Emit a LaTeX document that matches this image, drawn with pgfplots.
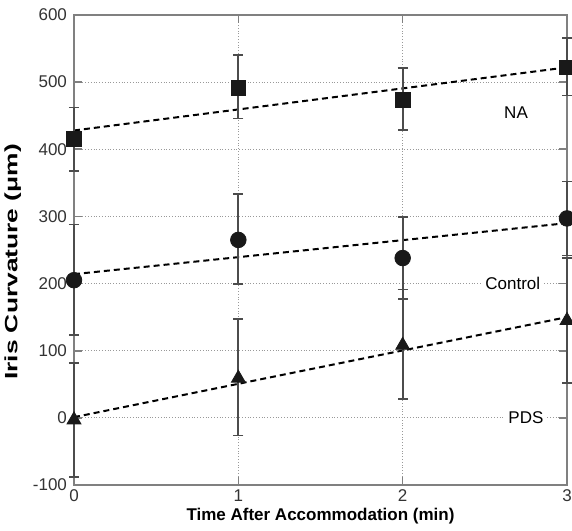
\documentclass[border=0pt]{standalone}
\usepackage{graphicx}
\usepackage{pgfplots}
\pgfplotsset{compat=1.18}
\usepackage{fontspec}
\setmainfont{Liberation Sans}
\definecolor{framegray}{gray}{0.5}
\definecolor{gridgray}{gray}{0.6}
\definecolor{ebgray}{gray}{0.3}
\definecolor{markblack}{gray}{0.1}
\begin{document}
\begin{tikzpicture}
\begin{axis}[
  scale only axis,
  width=246.5pt, height=235pt,
  xmin=0, xmax=3, ymin=-100, ymax=600,
  xtick={0,1,2,3}, ytick={-100,0,...,600},
  grid=major,
  major grid style={densely dotted, gridgray, line width=0.5pt},
  axis line style={framegray, line width=0.8pt},
  tick style={framegray, line width=0.8pt},
  major tick length=4pt,
  tick pos=both,
  font=\fontsize{8.5}{10}\selectfont,
  /pgf/number format/assume math mode=true,
  tick label style={font=\fontsize{8.5}{10}\selectfont, text=black!80},
  xlabel={\bfseries Time After Accommodation (min)},
  ylabel={\scalebox{1.55}[1.05]{\bfseries Iris Curvature (μm)}},
  xlabel style={yshift=4pt},
  ylabel style={yshift=-1pt, xshift=-6pt},
  xticklabel style={yshift=1pt},
  clip=false,
]
% fit lines
\addplot[black, line width=1pt, dash pattern=on 3pt off 2pt] coordinates {(0,428) (3,522)};
\addplot[black, line width=1pt, dash pattern=on 3pt off 2pt] coordinates {(0,214) (3,290)};
\addplot[black, line width=1pt, dash pattern=on 3pt off 2pt] coordinates {(0,1) (3,150)};
% labels
\node[fill=white, inner sep=1.5pt, font=\fontsize{8.5}{10}\selectfont] at (axis cs:2.69,455) {NA};
\node[fill=white, inner sep=1.5pt, font=\fontsize{8.5}{10}\selectfont] at (axis cs:2.67,200) {Control};
\node[fill=white, inner sep=1.5pt, font=\fontsize{8.5}{10}\selectfont] at (axis cs:2.75,0) {PDS};
% NA
\addplot[only marks, mark=square*, mark size=3.7pt, mark options={fill=markblack, draw=markblack},
  error bars/.cd, y dir=both, y explicit,
  error bar style={ebgray, line width=1pt},
  error mark options={ebgray, line width=0.8pt, rotate=90, mark size=2.5pt}]
  coordinates {
  (0,415) +- (0,47)
  (1,492) += (0,48) -= (0,46)
  (2,473) += (0,48) -= (0,44)
  (3,522) += (0,44) -= (0,42)
  };
% Control
\addplot[only marks, mark=*, mark size=3.9pt, mark options={fill=markblack, draw=markblack},
  error bars/.cd, y dir=both, y explicit,
  error bar style={ebgray, line width=1pt},
  error mark options={ebgray, line width=0.8pt, rotate=90, mark size=2.5pt}]
  coordinates {
  (0,205) += (0,83) -= (0,82)
  (1,265) += (0,68) -= (0,66)
  (2,238) +- (0,61)
  (3,297) +- (0,55)
  };
% PDS
\addplot[only marks, mark=triangle*, mark size=4pt, mark options={fill=markblack, draw=markblack},
  error bars/.cd, y dir=both, y explicit,
  error bar style={ebgray, line width=1pt},
  error mark options={ebgray, line width=0.8pt, rotate=90, mark size=2.5pt}]
  coordinates {
  (0,-3) +- (0,85)
  (1,59) += (0,88) -= (0,85)
  (2,108) += (0,83) -= (0,80)
  (3,145) +- (0,93)
  };
\end{axis}
\pgfresetboundingbox
\path[use as bounding box] ([xshift=-37pt,yshift=-23pt]current axis.south west) rectangle ([xshift=2.5pt,yshift=7.5pt]current axis.north east);
\end{tikzpicture}
\end{document}
